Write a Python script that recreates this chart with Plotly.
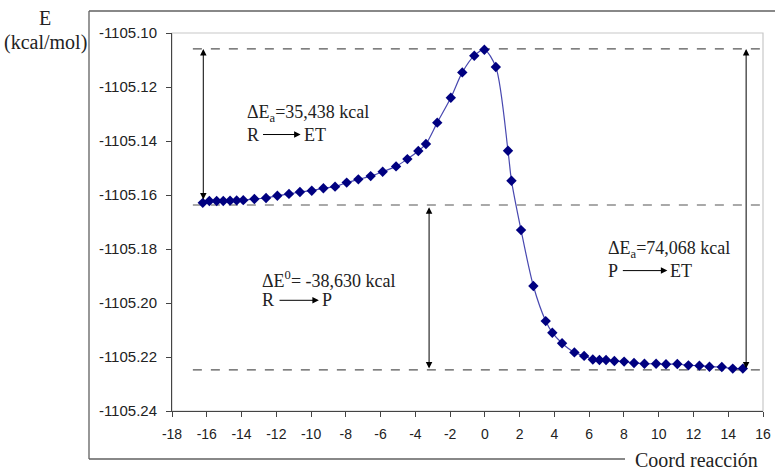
import plotly.graph_objects as go

# ---- data ----
coord = [-16.23, -15.85, -15.43, -15.05, -14.66, -14.28, -13.90, -13.26, -12.59, -11.94,
         -11.27, -10.64, -9.96, -9.29, -8.62, -7.95, -7.28, -6.57, -5.88, -5.11,
         -4.46, -3.83, -3.39, -2.74, -1.96, -1.30, -0.61, -0.03, 0.63, 1.33,
         1.53, 2.08, 2.79, 3.50, 3.88, 4.44, 5.15, 5.71, 6.21, 6.59,
         6.97, 7.45, 8.01, 8.58, 9.18, 9.85, 10.42, 11.07, 11.71, 12.34,
         12.92, 13.63, 14.26, 14.84]
energy = [-1105.1629, -1105.1622, -1105.1622, -1105.1622, -1105.1621, -1105.1620, -1105.1619,
          -1105.1615, -1105.1611, -1105.1603, -1105.1596, -1105.1589, -1105.1584, -1105.1575,
          -1105.1569, -1105.1554, -1105.1542, -1105.1530, -1105.1514, -1105.1494, -1105.1467,
          -1105.1437, -1105.1411, -1105.1332, -1105.1240, -1105.1146, -1105.1084, -1105.1062,
          -1105.1126, -1105.1436, -1105.1547, -1105.1730, -1105.1937, -1105.2067, -1105.2110,
          -1105.2149, -1105.2183, -1105.2196, -1105.2209, -1105.2211, -1105.2211, -1105.2215,
          -1105.2217, -1105.2222, -1105.2225, -1105.2225, -1105.2227, -1105.2226, -1105.2231,
          -1105.2232, -1105.2236, -1105.2237, -1105.2243, -1105.2243]

levels = [-1105.1059, -1105.1637, -1105.2248]   # ET, R, P reference lines
level_x = [-16.8, 16.0]

xtick_vals = list(range(-18, 17, 2))
xtick_text = [str(v) for v in xtick_vals]
ytick_vals = [-1105.10, -1105.12, -1105.14, -1105.16, -1105.18, -1105.20, -1105.22, -1105.24]
ytick_text = ["-1105.10", "-1105.12", "-1105.14", "-1105.16", "-1105.18", "-1105.20", "-1105.22", "-1105.24"]

label_a1 = "ΔE<sub>a</sub>=35,438 kcal"
label_e0 = "ΔE<sup>0</sup>= -38,630 kcal"
label_a2 = "ΔE<sub>a</sub>=74,068 kcal"

# ---- layout geometry (page pixels; body margin removed below) ----
W, H = 775, 471
L, R, T, B = 172, 763, 33, 411   # plot area


def px(xp):
    return (xp - L) / (R - L)


def py(yp):
    return (B - yp) / (B - T)


serif = "Liberation Serif"
sans = "Liberation Sans"

fig = go.Figure()

for lv in levels:
    fig.add_trace(go.Scatter(x=level_x, y=[lv, lv], mode="lines",
                             line=dict(color="#555555", width=1.2, dash="dash"),
                             hoverinfo="skip", showlegend=False))

fig.add_trace(go.Scatter(x=coord, y=energy, mode="lines+markers",
                         line=dict(color="#4848b0", width=1.2, shape="spline", smoothing=0.8),
                         marker=dict(symbol="diamond", size=8, color="#000080"),
                         showlegend=False))

ann = []
# vertical double arrows
for xa, y1, y2 in [(-16.2, levels[0], -1105.1622), (-3.21, -1105.1645, levels[2]),
                   (15.03, levels[0], levels[2])]:
    ann.append(dict(x=xa, y=y1, ax=xa, ay=y2, xref="x", yref="y", axref="x", ayref="y",
                    text="", showarrow=True, arrowhead=2, startarrowhead=2,
                    arrowside="end+start", arrowsize=1.3, startarrowsize=1.3,
                    arrowwidth=1, arrowcolor="black"))

tfont = dict(family=serif, size=18, color="#222222")
titlefont = dict(family=serif, size=20, color="#222222")


def block(label, x0, ytop, left, arrow_from, arrow_to, right):
    yline2 = ytop - 0.0078
    ann.append(dict(x=x0, y=ytop, xref="x", yref="y", text=label, showarrow=False,
                    xanchor="left", yanchor="middle", font=tfont))
    ann.append(dict(x=x0, y=yline2, xref="x", yref="y", text=left, showarrow=False,
                    xanchor="left", yanchor="middle", font=tfont))
    ann.append(dict(x=arrow_to, y=yline2, ax=arrow_from, ay=yline2, xref="x", yref="y",
                    axref="x", ayref="y", text="", showarrow=True, arrowhead=2,
                    arrowsize=1.3, arrowwidth=1, arrowcolor="black"))
    ann.append(dict(x=arrow_to + 0.05, y=yline2, xref="x", yref="y", text=right, showarrow=False,
                    xanchor="left", yanchor="middle", font=tfont))


block(label_a1, -13.8, -1105.1298, "R", -12.85, -10.6, "ET")
block(label_e0, -12.94, -1105.1912, "R", -11.9, -9.55, "P")
block(label_a2, 6.97, -1105.1802, "P", 7.85, 10.5, "ET")

# axis titles
ann.append(dict(x=px(45), y=py(18), xref="paper", yref="paper", text="E", showarrow=False,
                xanchor="center", yanchor="middle", font=titlefont))
ann.append(dict(x=px(45), y=py(42), xref="paper", yref="paper", text="(kcal/mol)", showarrow=False,
                xanchor="center", yanchor="middle", font=titlefont))
ann.append(dict(x=px(760), y=py(460), xref="paper", yref="paper", text="Coord reacción",
                showarrow=False, xanchor="right", yanchor="middle", font=titlefont))

shapes = [
    # plot area border (light)
    dict(type="rect", xref="paper", yref="paper", x0=0, y0=0, x1=1, y1=1,
         line=dict(color="#c8c8c8", width=1.2), layer="below"),
    # outer chart frame
    dict(type="line", xref="paper", yref="paper", x0=px(89), y0=py(11), x1=px(89), y1=py(459),
         line=dict(color="#606060", width=1.3)),
    dict(type="line", xref="paper", yref="paper", x0=px(89), y0=py(11), x1=px(776), y1=py(11),
         line=dict(color="#606060", width=1.3)),
    dict(type="line", xref="paper", yref="paper", x0=px(89), y0=py(459), x1=px(625), y1=py(459),
         line=dict(color="#606060", width=1.3)),
]

fig.update_layout(
    width=W, height=H,
    margin=dict(l=L, r=W - R, t=T, b=H - B),
    paper_bgcolor="white", plot_bgcolor="white",
    showlegend=False,
    annotations=ann, shapes=shapes,
    xaxis=dict(range=[-18, 16], tickvals=xtick_vals, ticktext=xtick_text,
               showgrid=False, zeroline=False, showline=True, linecolor="#444444", linewidth=1,
               ticks="outside", ticklen=5, tickcolor="#444444", automargin=False,
               ticklabelstandoff=5,
               tickfont=dict(family=sans, size=14, color="#222222")),
    yaxis=dict(range=[-1105.24, -1105.10], tickvals=ytick_vals, ticktext=ytick_text,
               showgrid=False, zeroline=False, showline=True, linecolor="#444444", linewidth=1,
               ticks="outside", ticklen=5, tickcolor="#444444", automargin=False,
               ticklabelstandoff=6,
               tickfont=dict(family=sans, size=15, color="#222222")),
)

fig.write_html("out.html", config={"displayModeBar": False},
               post_script="document.body.style.margin='0';document.body.style.overflow='hidden';")
